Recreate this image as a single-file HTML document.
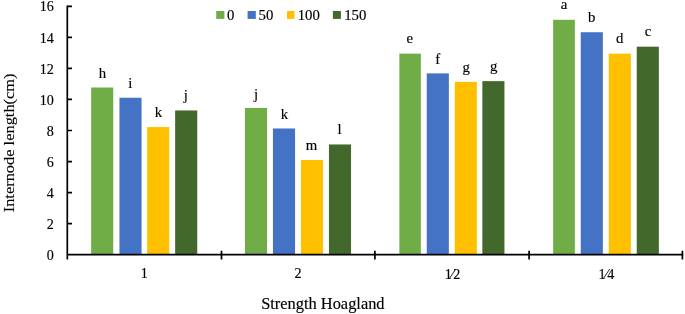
<!DOCTYPE html><html><head><meta charset="utf-8"><title>chart</title><style>html,body{margin:0;padding:0;background:#fff}svg{display:block}text{font-family:"Liberation Serif",serif;fill:#000;stroke:#000;stroke-width:0.15px}</style></head><body>
<svg width="685" height="314" viewBox="0 0 685 314">
<rect width="685" height="314" fill="#fff"/>
<rect x="91.15" y="87.50" width="22.10" height="167.20" fill="#70AD47"/>
<text x="102.40" y="77.50" font-size="14.8" text-anchor="middle">h</text>
<rect x="119.45" y="97.74" width="22.10" height="156.96" fill="#4472C4"/>
<text x="130.20" y="87.74" font-size="14.8" text-anchor="middle">i</text>
<rect x="147.15" y="127.08" width="22.10" height="127.62" fill="#FFC000"/>
<text x="158.50" y="117.08" font-size="14.8" text-anchor="middle">k</text>
<rect x="175.15" y="110.47" width="22.10" height="144.23" fill="#43682B"/>
<text x="185.90" y="100.47" font-size="14.8" text-anchor="middle">j</text>
<text x="144.20" y="278.15" font-size="14.1" text-anchor="middle">1</text>
<rect x="244.95" y="107.99" width="22.10" height="146.71" fill="#70AD47"/>
<text x="256.00" y="98.59" font-size="14.8" text-anchor="middle">j</text>
<rect x="272.95" y="128.48" width="22.10" height="126.22" fill="#4472C4"/>
<text x="284.50" y="118.88" font-size="14.8" text-anchor="middle">k</text>
<rect x="300.95" y="160.00" width="22.10" height="94.70" fill="#FFC000"/>
<text x="311.40" y="150.20" font-size="14.8" text-anchor="middle">m</text>
<rect x="328.95" y="144.47" width="22.10" height="110.23" fill="#43682B"/>
<text x="339.50" y="134.37" font-size="14.8" text-anchor="middle">l</text>
<text x="298.00" y="278.15" font-size="14.1" text-anchor="middle">2</text>
<rect x="399.35" y="53.65" width="21.50" height="201.05" fill="#70AD47"/>
<text x="409.80" y="43.25" font-size="14.8" text-anchor="middle">e</text>
<rect x="426.75" y="73.37" width="22.10" height="181.33" fill="#4472C4"/>
<text x="437.80" y="63.77" font-size="14.8" text-anchor="middle">f</text>
<rect x="454.75" y="81.91" width="22.10" height="172.79" fill="#FFC000"/>
<text x="466.30" y="72.21" font-size="14.8" text-anchor="middle">g</text>
<rect x="482.35" y="81.13" width="22.10" height="173.57" fill="#43682B"/>
<text x="493.80" y="71.33" font-size="14.8" text-anchor="middle">g</text>
<text x="452.35" y="278.5" font-size="14.1" text-anchor="middle" letter-spacing="-0.35">1⁄2</text>
<rect x="553.15" y="19.81" width="21.70" height="234.89" fill="#70AD47"/>
<text x="564.10" y="9.41" font-size="14.8" text-anchor="middle">a</text>
<rect x="580.75" y="32.23" width="22.10" height="222.47" fill="#4472C4"/>
<text x="591.60" y="22.23" font-size="14.8" text-anchor="middle">b</text>
<rect x="608.75" y="53.65" width="22.10" height="201.05" fill="#FFC000"/>
<text x="619.60" y="43.45" font-size="14.8" text-anchor="middle">d</text>
<rect x="636.75" y="46.66" width="22.10" height="208.03" fill="#43682B"/>
<text x="648.10" y="36.16" font-size="14.8" text-anchor="middle">c</text>
<text x="606.15" y="278.5" font-size="14.1" text-anchor="middle" letter-spacing="-0.35">1⁄4</text>
<path d="M67.3 5.45V259.50M66.45 254.7H683.25" stroke="#000" stroke-width="1.7" fill="none"/>
<path d="M67.3 223.65h4.7M67.3 192.60h4.7M67.3 161.55h4.7M67.3 130.50h4.7M67.3 99.45h4.7M67.3 68.40h4.7M67.3 37.35h4.7M67.3 6.30h4.7M221.5 250.80v8.7M374.9 250.80v8.7M529.1 250.80v8.7M682.4 250.80v8.7" stroke="#000" stroke-width="1.7" fill="none"/>
<text x="53.8" y="259.85" font-size="14.1" text-anchor="end">0</text>
<text x="53.8" y="228.80" font-size="14.1" text-anchor="end">2</text>
<text x="53.8" y="197.75" font-size="14.1" text-anchor="end">4</text>
<text x="53.8" y="166.70" font-size="14.1" text-anchor="end">6</text>
<text x="53.8" y="135.65" font-size="14.1" text-anchor="end">8</text>
<text x="53.8" y="104.60" font-size="14.1" text-anchor="end">10</text>
<text x="53.8" y="73.55" font-size="14.1" text-anchor="end">12</text>
<text x="53.8" y="42.50" font-size="14.1" text-anchor="end">14</text>
<text x="53.8" y="11.45" font-size="14.1" text-anchor="end">16</text>
<rect x="216.2" y="11" width="8.2" height="7.9" fill="#70AD47"/>
<text x="227.0" y="20" font-size="14.8">0</text>
<rect x="247.6" y="11" width="8.2" height="7.9" fill="#4472C4"/>
<text x="258.6" y="20" font-size="14.8">50</text>
<rect x="287.0" y="11" width="7.5" height="7.9" fill="#FFC000"/>
<text x="297.7" y="20" font-size="14.8">100</text>
<rect x="332.9" y="11" width="8.0" height="7.9" fill="#43682B"/>
<text x="344.2" y="20" font-size="14.8">150</text>
<text x="261.2" y="309.1" font-size="16.4">Strength Hoagland</text>
<text transform="translate(14.0,212.3) rotate(-90) scale(1,0.92)" font-size="16.4">Internode length(cm)</text>
</svg></body></html>
